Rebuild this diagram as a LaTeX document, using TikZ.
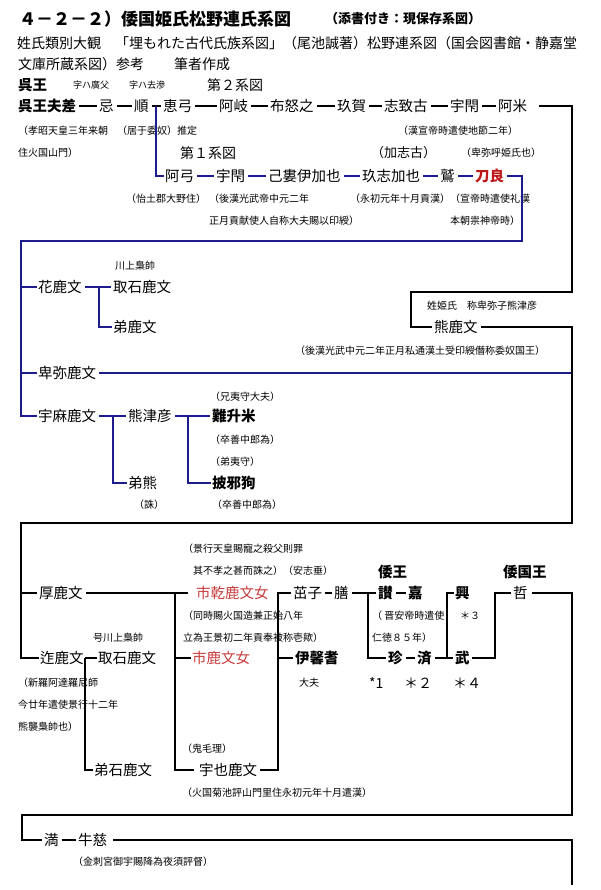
\documentclass[tikz,border=0pt]{standalone}
\usepackage{fontspec}
\newfontfamily\jp{Noto Sans CJK JP}
\definecolor{navy}{RGB}{28,28,140}
\definecolor{dred}{RGB}{190,25,25}
\definecolor{lred}{RGB}{200,60,60}
\tikzset{
  nm/.style={anchor=west, inner sep=0pt, text height=12.8pt, text depth=1.7pt, font=\jp\fontsize{14.5pt}{14.5pt}\selectfont},
  nb/.style={nm, font=\jp\bfseries\fontsize{14.5pt}{14.5pt}\selectfont},
  nt/.style={anchor=west, inner sep=0pt, text height=8.8pt, text depth=1.2pt, font=\jp\fontsize{10pt}{10pt}\selectfont},
  ns/.style={anchor=west, inner sep=0pt, text height=8pt, text depth=1.1pt, font=\jp\fontsize{9pt}{9pt}\selectfont},
  hd/.style={anchor=west, inner sep=0pt, text height=12.3pt, text depth=1.7pt, font=\jp\fontsize{14pt}{14pt}\selectfont},
  ln/.style={line width=2pt, draw=black},
  bl/.style={line width=2pt, draw=navy},
  dsh/.style={shorten <=3pt, shorten >=2pt},
}
\begin{document}
\begin{tikzpicture}[x=1pt,y=-1pt]
\useasboundingbox[fill=white] (0,0) rectangle (600,890);
% header
\node[anchor=west, inner sep=0pt, font=\jp\bfseries\fontsize{17pt}{17pt}\selectfont] (t1) at (19,19) {４－２－２）倭国姫氏松野連氏系図};
\node[anchor=west, inner sep=0pt, font=\jp\bfseries\fontsize{13pt}{13pt}\selectfont] (t2) at (325,19) {（添書付き：現保存系図）};
\node[hd] (t3) at (17,43) {姓氏類別大観　「埋もれた古代氏族系図」（尾池誠著）松野連系図（国会図書館・静嘉堂};
\node[hd] (t4) at (18,64) {文庫所蔵系図）参考\hspace{30pt}筆者作成};
\node[nb] (t5) at (18,85) {呉王};
\node[ns] (t6) at (73,85) {字ハ廣父};
\node[ns] (t7) at (129,85) {字ハ去滲};
\node[hd] (t8) at (207,85) {第２系図};
% row A
\node[nb] (a1) at (18,106) {呉王夫差};
\node[nm] (a2) at (99,106) {忌};
\node[nm] (a3) at (134,106) {順};
\node[nm] (a4) at (163,106) {恵弓};
\node[nm] (a5) at (219,106) {阿岐};
\node[nm] (a6) at (270,106) {布怒之};
\node[nm] (a7) at (337,106) {玖賀};
\node[nm] (a8) at (384,106) {志致古};
\node[nm] (a9) at (450,106) {宇閇};
\node[nm] (a10) at (498,106) {阿米};
\draw[ln,dsh] (a1.east) -- (a2.west);
\draw[ln,dsh] (a2.east) -- (a3.west);
\draw[ln,dsh] (a3.east) -- (a4.west);
\draw[ln,dsh] (a4.east) -- (a5.west);
\draw[ln,dsh] (a5.east) -- (a6.west);
\draw[ln,dsh] (a6.east) -- (a7.west);
\draw[ln,dsh] (a7.east) -- (a8.west);
\draw[ln,dsh] (a8.east) -- (a9.west);
\draw[ln,dsh] (a9.east) -- (a10.west);
% notes
\node[nt] (p1) at (18,131) {（孝昭天皇三年来朝};
\node[nt] (p2) at (117,131) {（居于委奴）推定};
\node[nt] (p3) at (398,131) {（漢宣帝時遣使地節二年）};
\node[nt] (p4) at (18,153) {住火国山門）};
\node[hd] (p5) at (180,153) {第１系図};
\node[anchor=west, inner sep=0pt, font=\jp\fontsize{13pt}{13pt}\selectfont] (p6) at (371,153) {（加志古）};
\node[nt] (p7) at (461,153) {（卑弥呼姫氏也）};
% row B
\node[nm] (b1) at (165,176) {阿弓};
\node[nm] (b2) at (216,176) {宇閇};
\node[nm] (b3) at (268,176) {己婁伊加也};
\node[nm] (b4) at (362,176) {玖志加也};
\node[nm] (b5) at (440,176) {鷲};
\node[nb, text=dred] (b6) at (475,176) {刀良};
\coordinate (j1) at (156,106);
\draw[bl, shorten >=1pt] (j1) |- (b1.west);
\draw[bl,dsh] (b1.east) -- (b2.west);
\draw[bl,dsh] (b2.east) -- (b3.west);
\draw[bl,dsh] (b3.east) -- (b4.west);
\draw[bl,dsh] (b4.east) -- (b5.west);
\draw[bl,dsh] (b5.east) -- (b6.west);
\node[nt] (q1) at (126,199) {（怡土郡大野住）};
\node[nt] (q2) at (209,199) {（後漢光武帝中元二年};
\node[nt] (q3) at (350,199) {（永初元年十月貢漢）};
\node[nt] (q4) at (450,199) {（宣帝時遣使礼漢};
\node[nt] (q5) at (209,221) {正月貢献使人自称大夫賜以印綬）};
\node[nt] (q6) at (450,221) {本朝祟神帝時）};
% middle blue section
\node[nt] (s1) at (115,266) {川上梟帥};
\node[nm] (h1) at (38,287) {花鹿文};
\node[nm] (h2) at (113,287) {取石鹿文};
\node[nm] (h3) at (113,327) {弟鹿文};
\node[nm] (h4) at (38,373) {卑弥鹿文};
\node[nt] (s2) at (427,306) {姓姫氏　称卑弥子熊津彦};
\node[nm] (c2) at (434,327) {熊鹿文};
\node[nt] (s3) at (295,351) {（後漢光武中元二年正月私通漢土受印綬僭称委奴国王）};
\node[nm] (u1) at (38,416) {宇麻鹿文};
\node[nm] (u2) at (128,416) {熊津彦};
\node[nb] (u3) at (212,416) {難升米};
\node[nm] (u4) at (128,483) {弟熊};
\node[nb] (u5) at (212,483) {披邪狗};
\node[nt] (s4) at (210,397) {（兄夷守大夫）};
\node[nt] (s5) at (210,440) {（卒善中郎為）};
\node[nt] (s6) at (210,462) {（弟夷守）};
\node[nt] (s7) at (134,505) {（誅）};
\node[nt] (s8) at (212,505) {（卒善中郎為）};
\coordinate (k1) at (522,241);
\coordinate (k2) at (21,241);
\draw[bl, shorten <=3pt, shorten >=1pt] (b6.east) -| (k1) -- (k2) |- (u1.west);
\coordinate (k3) at (21,287);
\draw[bl, shorten >=1pt] (k3) -- (h1.west);
\coordinate (k3b) at (21,373);
\draw[bl, shorten >=1pt] (k3b) -- (h4.west);
\draw[bl,dsh] (h1.east) -- (h2.west);
\coordinate (k4) at (99,287);
\draw[bl, shorten >=1pt] (k4) |- (h3.west);
\draw[bl,dsh] (u1.east) -- (u2.west);
\coordinate (k5) at (113,416);
\draw[bl, shorten >=1pt] (k5) |- (u4.west);
\draw[bl,dsh] (u2.east) -- (u3.west);
\coordinate (k6) at (188,416);
\draw[bl, shorten >=1pt] (k6) |- (u5.west);
% right black line
\coordinate (r1) at (572,106);
\coordinate (r2) at (572,292);
\coordinate (r3) at (411,292);
\draw[ln, shorten <=12pt, shorten >=2pt] (a10.east) -- (r1) -- (r2) -- (r3) |- (c2.west);
\coordinate (r6) at (572,373);
\draw[bl, shorten <=3pt] (h4.east) -- (r6);
% bottom section
\node[nt] (v1) at (183,549) {（景行天皇賜寵之殺父則罪};
\node[nt] (v2) at (193,571) {其不孝之甚而誅之）（安志垂）};
\node[nb] (v3) at (378,572) {倭王};
\node[nb] (v4) at (503,572) {倭国王};
\node[nm] (e1) at (39,593) {厚鹿文};
\node[nm, text=lred] (e3) at (196,593) {市乾鹿文女};
\node[nm] (e7) at (293,593) {茁子};
\node[nm] (e9) at (334,593) {膳};
\node[nb] (e10) at (378,593) {讃};
\node[nb] (e12) at (408,593) {嘉};
\node[nb] (e14) at (455,593) {興};
\node[nm] (e16) at (513,593) {哲};
\node[nt] (v5) at (183,616) {（同時賜火国造兼正始八年};
\node[nt] (v6) at (372,616) {（ 晋安帝時遣使};
\node[nt] (v7) at (460,616) {＊３};
\node[nt] (v8) at (93,638) {号川上梟帥};
\node[nt] (v9) at (183,638) {立為王景初二年貢奉被称壱歟）};
\node[nt] (v10) at (372,638) {仁徳８５年）};
\node[nm] (e2) at (40,658) {迮鹿文};
\node[nm] (e5) at (98,658) {取石鹿文};
\node[nm, text=lred] (e4) at (192,658) {市鹿文女};
\node[nb] (e8) at (295,658) {伊馨耆};
\node[nb] (e11) at (388,658) {珍};
\node[nb] (e13) at (417,658) {済};
\node[nb] (e15) at (455,658) {武};
\node[nt] (w1) at (18,683) {（新羅阿達羅尼師};
\node[nt] (w2) at (299,683) {大夫};
\node[hd] (w3) at (369,683) {*1};
\node[hd] (w4) at (404,683) {＊２};
\node[hd] (w5) at (453,683) {＊４};
\node[nt] (w6) at (18,705) {今廿年遣使景行十二年};
\node[nt] (w7) at (18,727) {熊襲梟帥也）};
\node[nt] (w8) at (182,749) {（鬼毛理）};
\node[nm] (e17) at (94,770) {弟石鹿文};
\node[nm] (e6) at (199,770) {宇也鹿文};
\node[nt] (w9) at (182,793) {（火国菊池評山門里住永初元年十月遣漢）};
\node[nm] (m1) at (44,840) {満};
\node[nm] (m2) at (78,840) {牛慈};
\node[nt] (w10) at (73,862) {（金刺宮御宇賜降為夜須評督）};
% bottom connectors
\coordinate (r4) at (572,523);
\coordinate (r5) at (21,523);
\draw[ln, shorten <=3pt, shorten >=1pt] (c2.east) -| (r4) -- (r5) |- (e2.west);
\coordinate (r7) at (21,593);
\draw[ln, shorten >=2pt] (r7) -- (e1.west);
\draw[ln, shorten <=3pt, shorten >=8pt] (e1.east) -- (e3.west);
\coordinate (k7) at (175,593);
\draw[ln, shorten >=5pt] (k7) |- (e6.west);
\coordinate (k8) at (175,658);
\draw[ln, shorten >=1pt] (k8) -- (e4.west);
\coordinate (k9) at (278,593);
\draw[ln, shorten <=3pt, shorten >=2pt] (e6.east) -| (k9) -- (e7.west);
\coordinate (k10) at (278,658);
\draw[ln, shorten >=2pt] (k10) -- (e8.west);
\draw[ln,dsh] (e7.east) -- (e9.west);
\draw[ln,dsh] (e9.east) -- (e10.west);
\coordinate (k11) at (368,593);
\draw[ln, shorten >=2pt] (k11) |- (e11.west);
\draw[ln,dsh] (e10.east) -- (e12.west);
\draw[ln,dsh] (e11.east) -- (e13.west);
\draw[ln,dsh] (e13.east) -- (e15.west);
\coordinate (k12) at (447,658);
\draw[ln, shorten >=1pt] (k12) |- (e14.west);
\coordinate (k13) at (495,593);
\draw[ln, shorten <=2pt, shorten >=2pt] (e15.east) -| (k13) -- (e16.west);
\draw[ln, shorten <=1pt, shorten >=1pt] (e2.east) -- (e5.west);
\coordinate (k14) at (85,658);
\draw[ln, shorten >=1pt] (k14) |- (e17.west);
\coordinate (r8) at (572,815);
\coordinate (r9) at (22,815);
\draw[ln, shorten <=4pt, shorten >=2pt] (e16.east) -| (r8) -- (r9) |- (m1.west);
\draw[ln,dsh] (m1.east) -- (m2.west);
\coordinate (r10) at (572,840);
\coordinate (r11) at (572,885);
\draw[ln, shorten <=6pt] (m2.east) -- (r10) -- (r11);
\end{tikzpicture}
\end{document}
